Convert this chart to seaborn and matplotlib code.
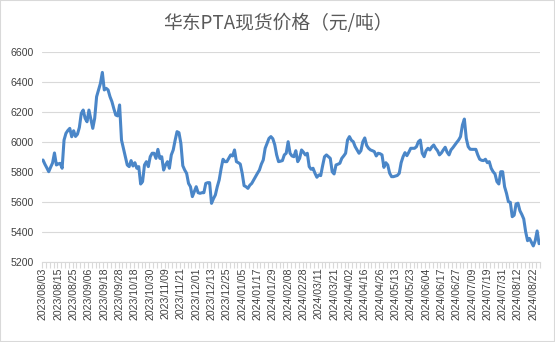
import numpy as np
import pandas as pd
import matplotlib
matplotlib.use("Agg")
import matplotlib.pyplot as plt
import seaborn as sns
from matplotlib.patches import Rectangle

title = "华东PTA现货价格（元/吨）"

# Date labels shown every 8 trading days
tick_labels = [
    "2023/08/03", "2023/08/15", "2023/08/25", "2023/09/06", "2023/09/18",
    "2023/09/28", "2023/10/18", "2023/10/30", "2023/11/09", "2023/11/21",
    "2023/12/01", "2023/12/13", "2023/12/25", "2024/01/05", "2024/01/17",
    "2024/01/29", "2024/02/08", "2024/02/28", "2024/03/11", "2024/03/21",
    "2024/04/02", "2024/04/16", "2024/04/26", "2024/05/13", "2024/05/23",
    "2024/06/04", "2024/06/17", "2024/06/27", "2024/07/09", "2024/07/19",
    "2024/07/31", "2024/08/12", "2024/08/22",
]

# Daily spot price (yuan/tonne), one value per trading day
prices = [
    5878, 5850, 5826, 5800, 5830, 5858, 5925, 5845, 5852, 5856,
    5823, 6011, 6056, 6075, 6089, 6033, 6073, 6035, 6050, 6095,
    6189, 6211, 6156, 6133, 6211, 6150, 6089, 6156, 6300, 6345,
    6389, 6462, 6345, 6356, 6345, 6300, 6267, 6220, 6178, 6172,
    6245, 6011, 5956, 5900, 5845, 5834, 5874, 5838, 5860, 5823,
    5834, 5718, 5734, 5845, 5867, 5834, 5900, 5923, 5923, 5889,
    5949, 5889, 5900, 5811, 5845, 5867, 5823, 5912, 5945, 6010,
    6067, 6060, 5989, 5840, 5811, 5789, 5722, 5700, 5634, 5667,
    5700, 5660, 5656, 5660, 5660, 5722, 5727, 5727, 5589, 5620,
    5645, 5700, 5745, 5820, 5883, 5867, 5867, 5890, 5912, 5905,
    5945, 5867, 5860, 5851, 5790, 5707, 5700, 5689, 5710, 5722,
    5745, 5767, 5790, 5811, 5850, 5878, 5956, 5990, 6022, 6034,
    6020, 5980, 5912, 5867, 5870, 5874, 5912, 5923, 6000, 5923,
    5905, 5900, 5940, 5867, 5889, 5945, 5930, 5912, 5923, 5834,
    5816, 5823, 5790, 5763, 5778, 5774, 5840, 5900, 5912, 5900,
    5889, 5800, 5785, 5845, 5850, 5856, 5889, 5905, 5923, 6011,
    6034, 6010, 6000, 5967, 5945, 5923, 5940, 6000, 6025, 5975,
    5956, 5945, 5940, 5934, 5905, 5923, 5920, 5912, 5829, 5860,
    5845, 5790, 5767, 5767, 5771, 5775, 5789, 5860, 5900, 5927,
    5907, 5930, 5956, 5956, 5956, 5967, 6000, 6011, 5923, 5900,
    5940, 5956, 5945, 5965, 5978, 5956, 5940, 5912, 5925, 5945,
    5963, 5930, 5912, 5945, 5960, 5978, 5995, 6011, 6034, 6111,
    6151, 6022, 5967, 5950, 5949, 5949, 5949, 5912, 5883, 5876,
    5874, 5883, 5860, 5867, 5823, 5800, 5785, 5734, 5718, 5800,
    5800, 5700, 5656, 5600, 5596, 5500, 5510, 5585, 5590, 5540,
    5515, 5485, 5400, 5340, 5355, 5330, 5305, 5340, 5405, 5320,
]

y_ticks = [5200, 5400, 5600, 5800, 6000, 6200, 6400, 6600]

sns.set_theme(style="white")
plt.rcParams["font.family"] = ["Liberation Sans", "Noto Sans CJK SC", "DejaVu Sans"]

df = pd.DataFrame({"day": np.arange(len(prices)), "price": prices})

fig = plt.figure(figsize=(5.55, 3.42), dpi=100)
ax = fig.add_axes([0.0757, 0.2348, 0.8973, 0.614])

sns.lineplot(data=df, x="day", y="price", ax=ax, color="#4a86c8",
             linewidth=2.2, solid_joinstyle="round", solid_capstyle="round")

ax.set_xlim(-0.5, len(prices) - 0.5)
ax.set_ylim(y_ticks[0], y_ticks[-1])
ax.set_yticks(y_ticks)
ax.set_yticklabels([str(v) for v in y_ticks])
ax.grid(axis="y", color="#d9d9d9", linewidth=0.8)
ax.set_axisbelow(True)

ax.set_xticks(np.arange(0, len(prices), 8)[:len(tick_labels)])
ax.set_xticklabels(tick_labels, rotation=90)
ax.set_xticks(np.arange(-0.5, len(prices), 2), minor=True)
ax.tick_params(axis="x", which="minor", bottom=True, length=4,
               color="#d9d9d9", width=0.8)
ax.tick_params(axis="x", which="major", bottom=True, length=0, pad=4,
               labelsize=7.6, labelcolor="#404040")
ax.tick_params(axis="y", length=0, pad=6, labelsize=7.6, labelcolor="#404040")

for side in ["top", "left", "right"]:
    ax.spines[side].set_visible(False)
ax.spines["bottom"].set_color("#d9d9d9")
ax.spines["bottom"].set_linewidth(0.8)
ax.set_xlabel("")
ax.set_ylabel("")

fig.text(0.5, 1 - 23 / 342, title, ha="center", va="center", fontsize=13.5,
         color="#595959", family=["Noto Sans CJK SC", "DejaVu Sans"])

fig.patches.append(Rectangle((0, 0), 1, 1, transform=fig.transFigure,
                             fill=False, edgecolor="#d9d9d9", linewidth=1.5))

fig.savefig("out.png", dpi=100)
